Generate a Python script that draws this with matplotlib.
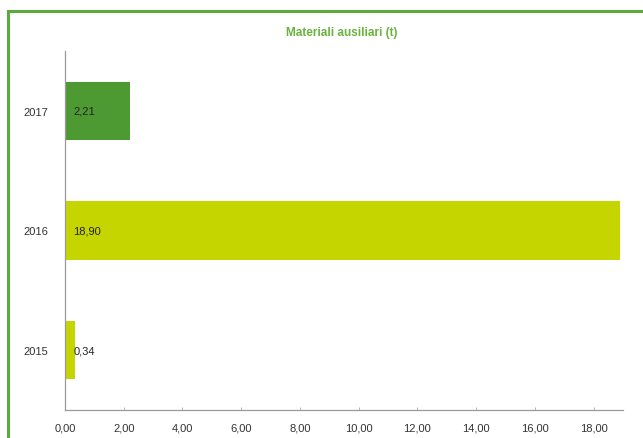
import matplotlib
matplotlib.use("Agg")
import matplotlib.pyplot as plt
from matplotlib.lines import Line2D

plt.rcParams["font.family"] = ["Liberation Sans", "DejaVu Sans"]

# Auxiliary materials consumed per year (tonnes)
years = ["2015", "2016", "2017"]
values = [0.34, 18.90, 2.21]
bar_colors = ["#c5d500", "#c5d500", "#4e9a32"]
tick_values = [0, 2, 4, 6, 8, 10, 12, 14, 16, 18]

W, H = 643, 439
fig = plt.figure(figsize=(W / 100, H / 100), dpi=100)
fig.patch.set_facecolor("white")

# axes placed in pixel terms
left, right, bottom, top = 65, 623, 411, 52
ax = fig.add_axes([left / W, 1 - bottom / H, (right - left) / W, (bottom - top) / H])

y = range(len(years))
ax.barh(y, values, height=0.49, color=bar_colors, edgecolor="none")

for yi, v in zip(y, values):
    ax.annotate(f"{v:.2f}".replace(".", ","), (0, yi), xytext=(6, 0),
                textcoords="offset points", ha="left", va="center",
                fontsize=8, color="#222222")

ax.set_xlim(0, 19.0)
ax.set_ylim(-0.5, 2.5)
ax.set_yticks(list(y))
ax.set_yticklabels(years, fontsize=8, color="#333333")
ax.set_xticks(tick_values)
ax.set_xticklabels([f"{t:.2f}".replace(".", ",") for t in tick_values],
                   fontsize=8, color="#333333")
ax.tick_params(axis="y", length=0, pad=12)
ax.tick_params(axis="x", direction="in", length=2, width=0.6, color="#aaaaaa", pad=9)

for side in ("top", "right"):
    ax.spines[side].set_visible(False)
for side in ("left", "bottom"):
    ax.spines[side].set_color("#9a9a9a")
    ax.spines[side].set_linewidth(0.9)

fig.text(342 / W, 1 - 33 / H, "Materiali ausiliari (t)", ha="center", va="center",
         fontsize=8.5, fontweight="bold", color="#6ab33e")

# green frame along top and left edges
frame_c = "#5aab3c"
fig.add_artist(Line2D([8 / W, 1], [1 - 11.5 / H, 1 - 11.5 / H], color=frame_c, lw=2.2,
                      transform=fig.transFigure))
fig.add_artist(Line2D([8 / W, 8 / W], [0, 1 - 11.5 / H], color=frame_c, lw=2.2,
                      transform=fig.transFigure))

fig.savefig("out.png", dpi=100)
